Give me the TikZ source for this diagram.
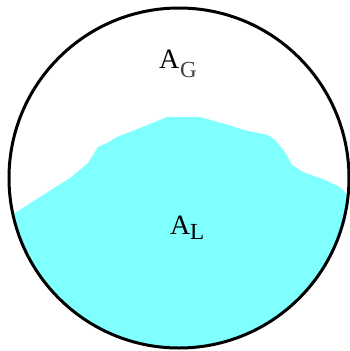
\documentclass[tikz,border=0pt]{standalone}
\usepackage{fontspec}
\setmainfont{Liberation Serif}
\definecolor{liquid}{HTML}{80FFFF}
\begin{document}
\begin{tikzpicture}[x=1pt,y=-1pt,
  rim/.style={draw=black,line width=3pt},
  lbl/.style={inner sep=0pt,anchor=base west,font=\fontsize{28}{28}\selectfont},
  sub/.style={inner sep=0pt,anchor=base west,font=\fontsize{23}{23}\selectfont}]
\useasboundingbox[fill=white] (0,0) rectangle (350,351);
\coordinate (c) at (179,178);
\begin{scope}
  \clip (c) circle (170);
  \fill[liquid] (0,214) -- (15,213) -- (40,197) -- (70,178) -- (88,163) -- (98,147)
    -- (107,143) -- (117,137) -- (140,128) -- (155,122) -- (167,117) -- (200,117)
    -- (225,124) -- (248,131) -- (268,135) -- (275,140) -- (285,152) -- (292,165)
    -- (303,172) -- (325,180) -- (340,187) -- (350,198) -- (360,200)
    -- (360,360) -- (0,360) -- cycle;
\end{scope}
\node[rim,circle,minimum size=340pt,inner sep=0pt] (rimc) at (c) {};
\node[lbl] (ag) at (159,68) {A};
\node[sub,text=black!75] (agsub) at (180,77) {G};
\node[lbl] (al) at (170,234) {A};
\node[sub] (alsub) at (190,239) {L};
\end{tikzpicture}
\end{document}
